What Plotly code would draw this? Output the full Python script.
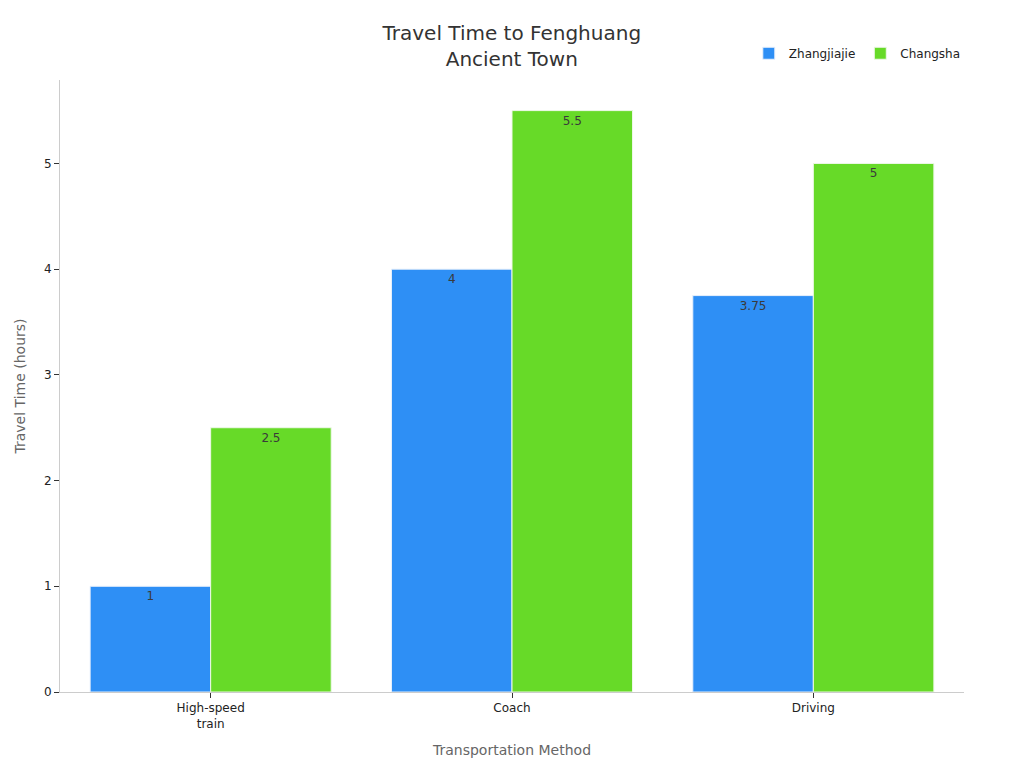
import plotly.graph_objects as go

methods = ["High-speed<br>train", "Coach", "Driving"]
zhangjiajie = [1, 4, 3.75]
changsha = [2.5, 5.5, 5]
series_names = ["Zhangjiajie", "Changsha"]

fig = go.Figure()
fig.add_trace(go.Bar(
    x=methods, y=zhangjiajie, name=series_names[0],
    marker=dict(color="#2e8ff5", line=dict(color="#e8f0fb", width=1)),
    text=[str(v) for v in zhangjiajie], textposition="inside",
    insidetextanchor="end",
    textfont=dict(family="DejaVu Sans", size=12, color="#3a3a3a"),
))
fig.add_trace(go.Bar(
    x=methods, y=changsha, name=series_names[1],
    marker=dict(color="#67da28", line=dict(color="#eef8e8", width=1)),
    text=[str(v) for v in changsha], textposition="inside",
    insidetextanchor="end",
    textfont=dict(family="DejaVu Sans", size=12, color="#3a3a3a"),
))

fig.update_layout(
    width=1024,
    height=768,
    margin=dict(l=52, r=68, t=72, b=84),
    paper_bgcolor="white",
    plot_bgcolor="white",
    font=dict(family="DejaVu Sans", size=12, color="#222222"),
    title=dict(
        text="Travel Time to Fenghuang<br>Ancient Town",
        x=0.492, xanchor="center", y=0.958, yanchor="middle",
        font=dict(size=20, color="#333333"),
    ),
    barmode="group",
    bargap=0.2,
    bargroupgap=0,
    uniformtext=dict(mode="show", minsize=12),
    legend=dict(
        orientation="h", x=1.002, xanchor="right", y=1.02, yanchor="bottom",
        font=dict(size=12, color="#222222"),
    ),
    xaxis=dict(
        title=dict(text="Transportation Method", font=dict(size=14, color="#666666"), standoff=15),
        showline=True, linecolor="#cccccc", linewidth=1,
        ticks="outside", tickcolor="#333333", ticklen=5,
        showgrid=False,
    ),
    yaxis=dict(
        title=dict(text="Travel Time (hours)", font=dict(size=14, color="#666666"), standoff=15),
        showline=True, linecolor="#cccccc", linewidth=1,
        ticks="outside", tickcolor="#333333", ticklen=5,
        showgrid=False, zeroline=False,
        dtick=1,
    ),
)

fig.write_html("out.html")
